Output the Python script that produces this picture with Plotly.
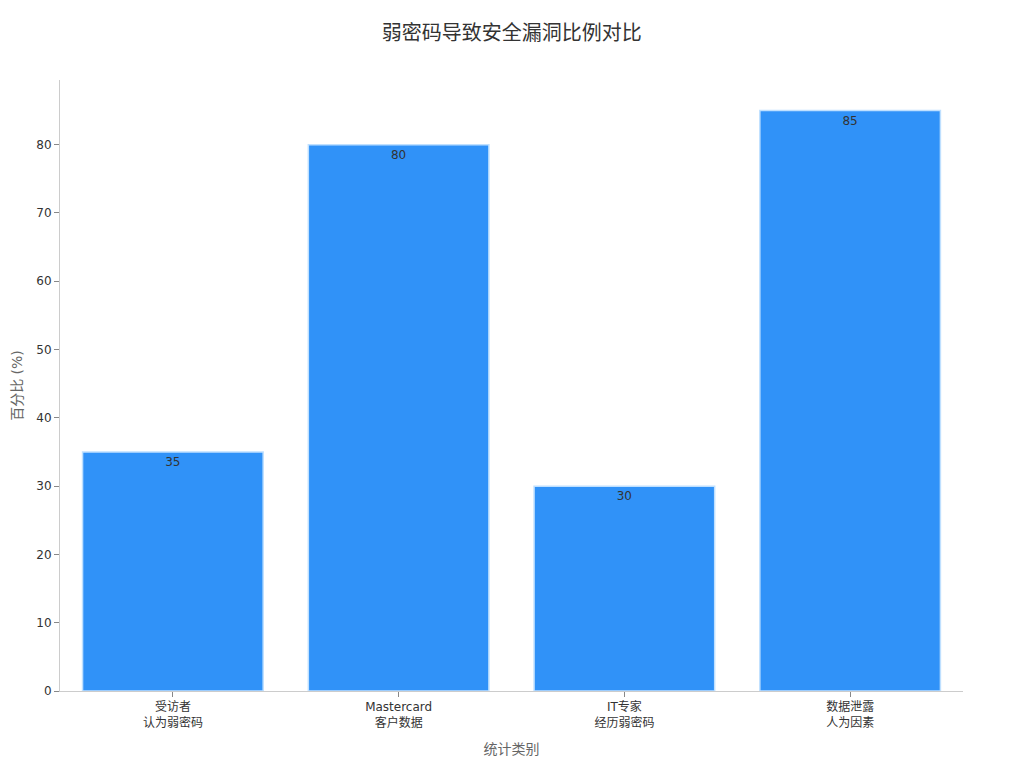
import plotly.graph_objects as go

categories = ['受访者<br>认为弱密码', 'Mastercard<br>客户数据', 'IT专家<br>经历弱密码', '数据泄露<br>人为因素']
percentages = [35, 80, 30, 85]

fig = go.Figure()
fig.add_trace(go.Bar(
    x=categories,
    y=percentages,
    text=percentages,
    textposition='inside',
    insidetextanchor='end',
    textfont=dict(color='#333333', size=12),
    marker=dict(color='#3092F8', line=dict(color='#BFE0FF', width=1.5)),
))

# the page adds ~8px offset, so the margins are shifted to keep the plot area in place
fig.update_layout(
    title=dict(text='弱密码导致安全漏洞比例对比', x=0.492, xanchor='center', y=0.976,
               font=dict(size=20, color='#333333')),
    font=dict(family='DejaVu Sans, Noto Sans CJK SC', size=12, color='#333333'),
    plot_bgcolor='white',
    paper_bgcolor='white',
    width=1024,
    height=768,
    margin=dict(l=52, r=69, t=72, b=85),
    bargap=0.2,
    showlegend=False,
    xaxis=dict(
        title=dict(text='统计类别', font=dict(size=14, color='#666666')),
        showline=True, linecolor='#CCCCCC', linewidth=1,
        ticks='outside', tickcolor='#888888', ticklen=5,
        showgrid=False, automargin=False,
    ),
    yaxis=dict(
        title=dict(text='百分比 (%)', font=dict(size=14, color='#666666'), standoff=10),
        showline=True, linecolor='#CCCCCC', linewidth=1,
        ticks='outside', tickcolor='#888888', ticklen=5,
        showgrid=False, zeroline=False, automargin=False,
        dtick=10,
    ),
)

fig.write_html("out.html")
